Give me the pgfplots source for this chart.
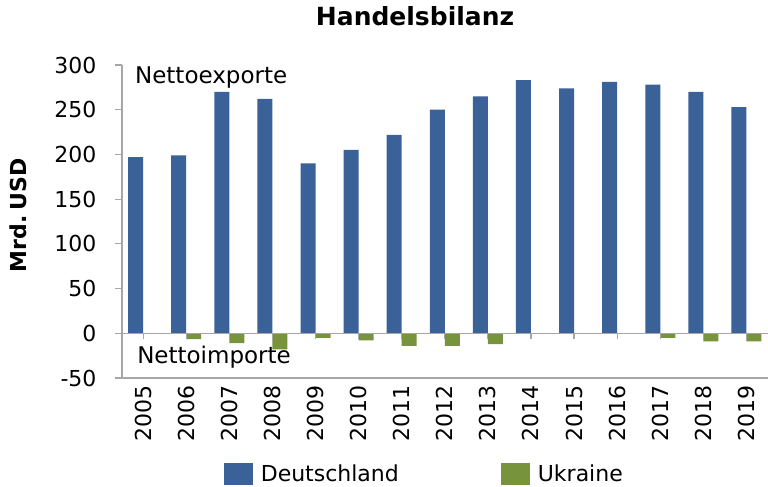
\documentclass[border=0pt]{standalone}
\usepackage{fontspec}
\setmainfont{DejaVu Sans}
\usepackage{pgfplots}
\pgfplotsset{compat=1.18}
\definecolor{de}{HTML}{3A6198}
\definecolor{ua}{HTML}{77933C}
\definecolor{axgray}{HTML}{A6A6A6}
\newcommand{\fs}{\fontsize{22}{26}\selectfont}
\begin{document}
\begin{tikzpicture}[x=1pt,y=1pt]
\useasboundingbox (0,0) rectangle (768,487);
\begin{axis}[
  at={(122pt,109pt)}, anchor=south west,
  scale only axis, width=646pt, height=313pt,
  xmin=-0.49, xmax=14.5, ymin=-50, ymax=300,
  ybar=0pt, bar width=15pt,
  axis x line=bottom, axis y line=left,
  axis line style={-, draw=axgray, line width=1.2pt},
  xtick={0,...,14},
  xticklabels={2005,2006,2007,2008,2009,2010,2011,2012,2013,2014,2015,2016,2017,2018,2019},
  x tick label style={rotate=90, anchor=east, font=\fs, inner sep=0pt},
  xtick style={draw=none},
  ytick={-50,0,50,...,300},
  tick align=outside, major tick length=7pt,
  ytick style={draw=axgray, line width=1.2pt},
  y tick label style={font=\fs, anchor=east, xshift=-15pt},
  /pgf/number format/assume math mode=true,
  title={Handelsbilanz},
  title style={at={(0.4536,1.137)}, anchor=center, font=\bfseries\fontsize{25}{29}\selectfont},
  ylabel={Mrd.\hspace{5pt}USD},
  ylabel style={at={(-0.161,0.52)}, anchor=center, font=\bfseries\fs},
  legend style={at={(0.468,-0.307)}, anchor=center, draw=none, font=\fs,
    /tikz/every even column/.append style={column sep=100pt},
    /tikz/every odd column/.append style={column sep=6pt}},
  legend columns=2,
  legend cell align=left,
  sq/.style={legend image code/.code={\fill[##1] (0pt,-11pt) rectangle (29pt,11pt);}},
]
\addplot[fill=de, draw=none, sq] coordinates {
 (0,197) (1,199) (2,270) (3,262) (4,190) (5,205) (6,222) (7,250)
 (8,265) (9,283) (10,274) (11,281) (12,278) (13,270) (14,253)};
\addlegendentry{Deutschland}
\addplot[fill=ua, draw=none, sq] coordinates {
 (0,0) (1,-6.5) (2,-11) (3,-18) (4,-5) (5,-8) (6,-14) (7,-14)
 (8,-12) (9,0) (10,0) (11,0) (12,-5) (13,-9) (14,-9)};
\addlegendentry{Ukraine}
\node[anchor=west, inner sep=0pt, font=\fontsize{23}{27}\selectfont] at (axis cs:-0.19,286) {Nettoexporte};
\node[anchor=west, inner sep=0pt, font=\fontsize{23}{27}\selectfont] at (axis cs:-0.14,-27) {Nettoimporte};
\end{axis}
% zero line of the category axis, with its tick marks
\begin{axis}[
  at={(122pt,153.64pt)}, anchor=south west,
  scale only axis, width=646pt, height=268.36pt,
  xmin=-0.49, xmax=14.5, ymin=0, ymax=300,
  axis x line=bottom, axis y line=none,
  axis line style={-, draw=axgray, line width=1.2pt},
  xtick={0,...,14}, xticklabels={},
  tick align=outside, major tick length=6pt,
  xtick style={draw=axgray, line width=1.2pt},
]
\end{axis}
\end{tikzpicture}
\end{document}
